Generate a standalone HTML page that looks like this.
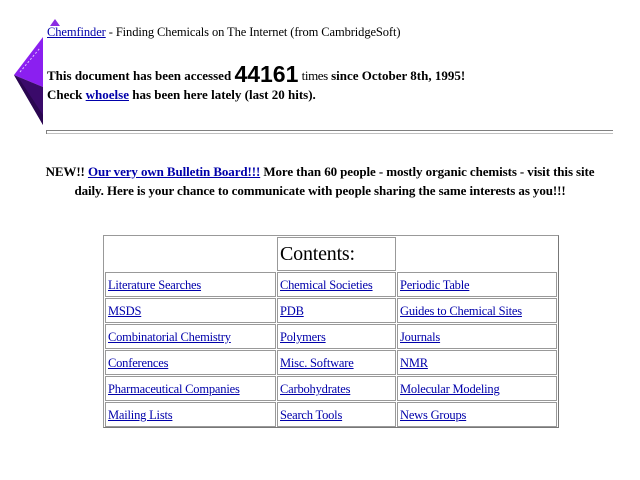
<!DOCTYPE html>
<html><head><meta charset="utf-8"><style>
body{margin:0;width:640px;height:480px;background:#fff;position:relative;overflow:hidden;font-family:"Liberation Serif",serif;color:#000}
.a{position:absolute;white-space:nowrap}
a{color:#00a;text-decoration:underline}
.t{position:absolute;left:103px;top:235px;width:456px;height:193px;border:1px solid #999;border-right-color:#777;border-bottom-color:#777;box-sizing:border-box}
.c{position:absolute;border:1px solid #999;box-sizing:border-box;font-size:12.5px;line-height:24px;padding-left:2px;white-space:nowrap;overflow:hidden;letter-spacing:-0.2px}
.c a{color:#00a}
</style></head><body>
<svg class="a" style="left:0;top:0" width="70" height="130">
<polygon points="55,19 50,26 60,26" fill="#8a2be2"/>
<polygon points="14,75 43,37 43,87" fill="#8b1ff0"/>
<polygon points="14,75 43,87 43,125" fill="#3a0a6a"/>
<polygon points="14,75 20,80 43,115 43,125" fill="#2a0650"/>
<line x1="20" y1="72" x2="40" y2="48" stroke="#e0c8ff" stroke-width="1" stroke-dasharray="2,2"/>
</svg>
<div class="a" style="left:47px;top:25px;font-size:12.5px;letter-spacing:-0.1px"><a href="#">Chemfinder</a> - Finding Chemicals on The Internet (from CambridgeSoft)</div>
<div class="a" style="left:47px;top:62px;font-size:13px;font-weight:bold;line-height:24px">This document has been accessed <span style="font-family:'Liberation Sans',sans-serif;font-size:23px;font-weight:bold;vertical-align:-2px">44161</span> <span style="font-weight:normal;letter-spacing:-0.4px">times</span> since October 8th, 1995!</div>
<div class="a" style="left:47px;top:87px;font-size:13px;font-weight:bold">Check <a href="#">whoelse</a> has been here lately (last 20 hits).</div>
<div class="a" style="left:46px;top:130px;width:567px;height:1px;background:#808080"></div>
<div class="a" style="left:46px;top:133px;width:567px;height:1px;background:#c0c0c0"></div>
<div class="a" style="left:46px;top:130px;width:1px;height:4px;background:#808080"></div>
<div class="a" style="left:0;width:640px;top:162px;text-align:center;font-size:13px;font-weight:bold;line-height:19px;letter-spacing:-0.1px">NEW!! <a href="#">Our very own Bulletin Board!!!</a> More than 60 people - mostly organic chemists - visit this site<br>daily. Here is your chance to communicate with people sharing the same interests as you!!!</div>
<div class="t"></div>
<div class="c" style="left:277px;top:237px;width:119px;height:34px;font-size:20px;line-height:32px">Contents:</div>
<div class="c" style="left:105px;top:272px;width:171px;height:25px"><a href="#">Literature Searches</a></div>
<div class="c" style="left:277px;top:272px;width:119px;height:25px"><a href="#">Chemical Societies</a></div>
<div class="c" style="left:397px;top:272px;width:160px;height:25px"><a href="#">Periodic Table</a></div>
<div class="c" style="left:105px;top:298px;width:171px;height:25px"><a href="#">MSDS</a></div>
<div class="c" style="left:277px;top:298px;width:119px;height:25px"><a href="#">PDB</a></div>
<div class="c" style="left:397px;top:298px;width:160px;height:25px"><a href="#">Guides to Chemical Sites</a></div>
<div class="c" style="left:105px;top:324px;width:171px;height:25px"><a href="#">Combinatorial Chemistry</a></div>
<div class="c" style="left:277px;top:324px;width:119px;height:25px"><a href="#">Polymers</a></div>
<div class="c" style="left:397px;top:324px;width:160px;height:25px"><a href="#">Journals</a></div>
<div class="c" style="left:105px;top:350px;width:171px;height:25px"><a href="#">Conferences</a></div>
<div class="c" style="left:277px;top:350px;width:119px;height:25px"><a href="#">Misc. Software</a></div>
<div class="c" style="left:397px;top:350px;width:160px;height:25px"><a href="#">NMR</a></div>
<div class="c" style="left:105px;top:376px;width:171px;height:25px"><a href="#">Pharmaceutical Companies</a></div>
<div class="c" style="left:277px;top:376px;width:119px;height:25px"><a href="#">Carbohydrates</a></div>
<div class="c" style="left:397px;top:376px;width:160px;height:25px"><a href="#">Molecular Modeling</a></div>
<div class="c" style="left:105px;top:402px;width:171px;height:25px"><a href="#">Mailing Lists</a></div>
<div class="c" style="left:277px;top:402px;width:119px;height:25px"><a href="#">Search Tools</a></div>
<div class="c" style="left:397px;top:402px;width:160px;height:25px"><a href="#">News Groups</a></div>
</body></html>
